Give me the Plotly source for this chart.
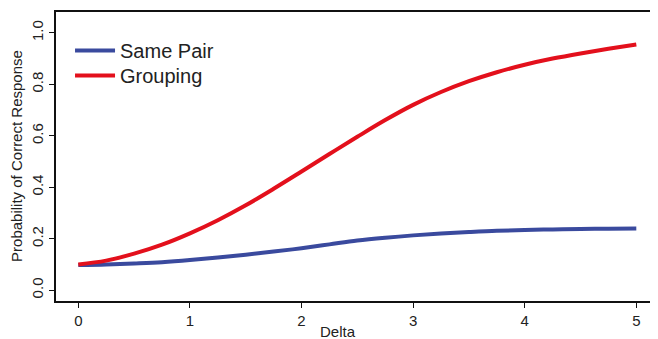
import plotly.graph_objects as go

delta = [0, 0.25, 0.5, 0.75, 1.0, 1.25, 1.5, 1.75, 2.0, 2.25, 2.5, 2.75,
         3.0, 3.25, 3.5, 3.75, 4.0, 4.25, 4.5, 4.75, 5.0]
same_pair = [0.098, 0.100, 0.104, 0.109, 0.117, 0.127, 0.138, 0.150, 0.163, 0.178, 0.193,
             0.204, 0.213, 0.220, 0.226, 0.231, 0.234, 0.236, 0.238, 0.239, 0.240]
grouping = [0.100, 0.115, 0.142, 0.177, 0.221, 0.272, 0.330, 0.394, 0.461, 0.529, 0.596,
            0.661, 0.720, 0.770, 0.812, 0.847, 0.876, 0.900, 0.920, 0.938, 0.955]
x_ticks = [0, 1, 2, 3, 4, 5]
y_ticks = [0.0, 0.2, 0.4, 0.6, 0.8, 1.0]
y_tick_text = ["0.0", "0.2", "0.4", "0.6", "0.8", "1.0"]

FONT = "Liberation Sans, Arial, sans-serif"
TXT = "#222222"

fig = go.Figure()
fig.add_trace(go.Scatter(x=delta, y=same_pair, mode="lines", name="Same Pair", legend="legend",
                         line=dict(color="#3A4A9E", width=4, shape="spline", smoothing=1.0)))
fig.add_trace(go.Scatter(x=delta, y=grouping, mode="lines", name="Grouping", legend="legend2",
                         line=dict(color="#E3101C", width=4, shape="spline", smoothing=1.0)))

leg_common = dict(xanchor="left", yanchor="top", font=dict(size=20, color=TXT),
                  bgcolor="rgba(0,0,0,0)", itemwidth=40)

fig.update_layout(
    width=658, height=339,
    margin=dict(l=48, r=0, t=4, b=46),
    paper_bgcolor="white", plot_bgcolor="white",
    font=dict(family=FONT, color=TXT, size=15),
    showlegend=True,
    legend=dict(x=0.023, y=0.934, **leg_common),
    legend2=dict(x=0.023, y=0.848, **leg_common),
    xaxis=dict(range=[-0.2, 5.266], tickvals=x_ticks, showgrid=False, zeroline=False,
               showline=True, linecolor="#111111", linewidth=2, mirror=True,
               ticks="outside", ticklen=5, tickwidth=1, tickcolor="#111111",
               automargin=False, tickfont=dict(size=15, color=TXT)),
    yaxis=dict(range=[-0.042, 1.081], tickvals=y_ticks, ticktext=y_tick_text,
               showgrid=False, zeroline=False,
               showline=True, linecolor="#111111", linewidth=2,
               ticks="outside", ticklen=5, tickwidth=1, tickcolor="#111111",
               tickangle=-90, automargin=False, tickfont=dict(size=15, color=TXT)),
    annotations=[
        dict(text="Delta", xref="paper", yref="paper", x=0.462, y=0,
             xanchor="center", yanchor="middle", yshift=-30,
             showarrow=False, font=dict(size=15, color=TXT)),
        dict(text="Probability of Correct Response", xref="paper", yref="paper",
             x=0, y=0.502, xanchor="center", yanchor="middle",
             xshift=-39, textangle=-90,
             showarrow=False, font=dict(size=15, color=TXT)),
    ],
)

fig.write_html("out.html")
